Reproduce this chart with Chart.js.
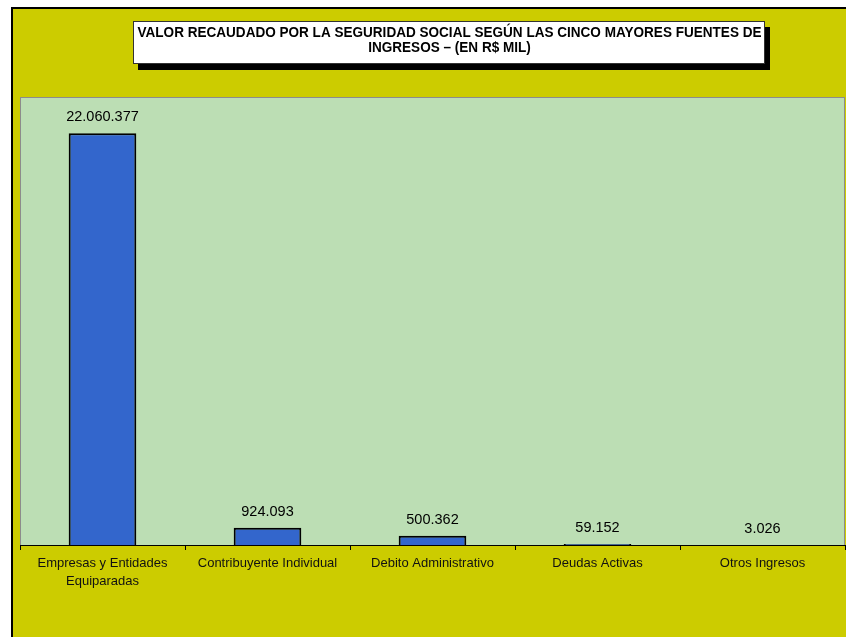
<!DOCTYPE html>
<html>
<head>
<meta charset="utf-8">
<script src="https://cdn.jsdelivr.net/npm/chart.js@4"></script>
<style>
html,body{margin:0;padding:0;background:#fff;}
#wrap{width:846px;height:637px;position:relative;}
</style>
</head>
<body>
<div id="wrap"><canvas id="c" width="846" height="637"></canvas></div>
<script>
const titleLines = ["VALOR RECAUDADO POR LA SEGURIDAD SOCIAL SEGÚN LAS CINCO MAYORES FUENTES DE", "INGRESOS – (EN R$ MIL)"];
const categories = [["Empresas y Entidades", "Equiparadas"], "Contribuyente Individual", "Debito Administrativo", "Deudas Activas", "Otros Ingresos"];
const values = [22060377, 924093, 500362, 59152, 3026];
const valueLabels = ["22.060.377", "924.093", "500.362", "59.152", "3.026"];

const FONT = "Arial, 'Liberation Sans', sans-serif";

const framePlugin = {
  id: 'frame',
  beforeDraw(chart) {
    const ctx = chart.ctx;
    ctx.save();
    ctx.fillStyle = '#ffffff';
    ctx.fillRect(0, 0, chart.width, chart.height);
    ctx.fillStyle = '#CCCC00';
    ctx.fillRect(12, 8, chart.width - 12, chart.height - 8);
    ctx.strokeStyle = '#000';
    ctx.lineWidth = 2;
    ctx.beginPath();
    ctx.moveTo(12, chart.height);
    ctx.lineTo(12, 8);
    ctx.lineTo(chart.width, 8);
    ctx.stroke();
    const a = chart.chartArea;
    ctx.fillStyle = '#BCDEB4';
    ctx.fillRect(a.left, a.top, a.right - a.left, a.bottom - a.top);
    ctx.strokeStyle = '#8C8C8C';
    ctx.lineWidth = 1;
    ctx.strokeRect(a.left + 0.5, a.top + 0.5, a.right - a.left - 1, a.bottom - a.top);
    // title box
    ctx.fillStyle = '#000';
    ctx.fillRect(138, 27, 632, 43);
    ctx.fillStyle = '#fff';
    ctx.fillRect(133, 21, 632, 43);
    ctx.strokeStyle = '#333';
    ctx.strokeRect(133.5, 21.5, 631, 42);
    ctx.fillStyle = '#000';
    ctx.font = 'bold 14px ' + FONT;
    ctx.textAlign = 'center';
    ctx.textBaseline = 'middle';
    const w = ctx.measureText(titleLines[0]).width;
    const sx = 624 / w;
    ctx.translate(449.5, 0);
    ctx.scale(sx, 1);
    ctx.fillText(titleLines[0], 0, 33);
    ctx.fillText(titleLines[1], 0, 48.5);
    ctx.restore();
  },
  afterDatasetsDraw(chart) {
    const ctx = chart.ctx;
    const meta = chart.getDatasetMeta(0);
    ctx.save();
    ctx.fillStyle = '#000';
    ctx.font = '14.5px ' + FONT;
    ctx.textAlign = 'center';
    ctx.textBaseline = 'middle';
    meta.data.forEach((bar, i) => {
      ctx.fillText(valueLabels[i], bar.x, bar.y - 16);
    });
    ctx.restore();
  }
};

new Chart(document.getElementById('c'), {
  type: 'bar',
  data: {
    labels: categories,
    datasets: [{
      data: values,
      backgroundColor: '#3366CC',
      borderColor: '#000',
      borderWidth: 2,
      categoryPercentage: 1,
      barPercentage: 0.41
    }]
  },
  options: {
    responsive: false,
    animation: false,
    layout: { padding: { left: 20, right: 1, top: 97, bottom: 0 } },
    plugins: { legend: { display: false }, title: { display: false }, tooltip: { enabled: false } },
    scales: {
      y: { display: false, min: 0, max: 24000000 },
      x: {
        afterFit(scale) { scale.height = 92; },
        grid: { offset: true, drawOnChartArea: false, color: '#000', tickLength: 5, lineWidth: 1 },
        border: { color: '#000', width: 1 },
        ticks: { color: '#111', font: { family: FONT, size: 13, lineHeight: 1.4 }, maxRotation: 0, autoSkip: false, padding: 4 }
      }
    }
  },
  plugins: [framePlugin]
});
</script>
</body>
</html>
